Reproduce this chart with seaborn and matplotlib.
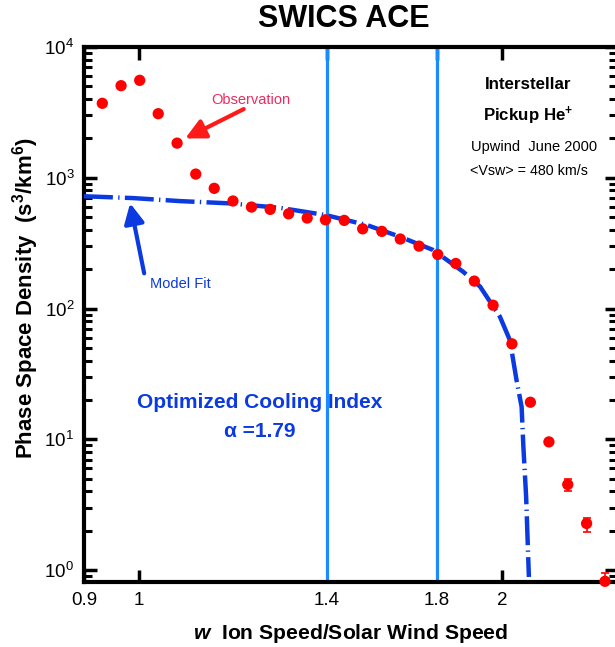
"""
SWICS ACE - interstellar pickup He+ phase space density vs w
"""
import matplotlib
matplotlib.use("Agg")
import matplotlib.pyplot as plt
import seaborn as sns

w_obs = [0.932, 0.966, 1.001, 1.037, 1.075, 1.114, 1.154, 1.196, 1.239, 1.284,
         1.330, 1.378, 1.427, 1.479, 1.532, 1.589, 1.646, 1.706, 1.768, 1.830,
         1.896, 1.965, 2.037, 2.110, 2.186, 2.266, 2.349, 2.433]
f_obs = [3710, 5060, 5560, 3090, 1840, 1067, 830, 664, 597, 573,
         530, 492, 477, 472, 407, 389, 340, 300, 259, 221,
         162, 106, 53.7, 19.2, 9.55, 4.51, 2.27, 0.82]

# error bars (only visible on the last points)
w_err = [2.266, 2.349, 2.433]
f_err = [4.51, 2.27, 0.82]
err_lo = [0.50, 0.30, 0.12]
err_hi = [0.47, 0.25, 0.13]

# model fit, alpha = 1.79
w_fit = [0.900, 0.989, 1.081, 1.189, 1.308, 1.428, 1.544, 1.645, 1.753, 1.856,
         1.917, 1.991, 2.029, 2.055, 2.075, 2.082, 2.093, 2.104]
f_fit = [722, 699, 663, 637, 589, 518, 435, 354, 280, 191,
         147, 86.4, 57.3, 28.3, 17.7, 8.75, 3.62, 0.885]

# selected w lines
w_lines = [1.43, 1.765]
x_ticks = [0.9, 1.0, 1.43, 1.765, 2.0]
x_labels = ["0.9", "1", "1.4", "1.8", "2"]

sns.set_style("ticks")
plt.rcParams["font.family"] = ["Liberation Sans", "DejaVu Sans"]
plt.rcParams["text.color"] = "black"
plt.rcParams["axes.labelcolor"] = "black"
plt.rcParams["mathtext.fontset"] = "custom"
plt.rcParams["mathtext.rm"] = "Liberation Sans"
plt.rcParams["mathtext.it"] = "Liberation Sans:italic:bold"
plt.rcParams["mathtext.bf"] = "Liberation Sans:bold"

RED = "#ff0000"
BLUE = "#0a3ae0"
LBLUE = "#1a8cff"

fig = plt.figure(figsize=(6.15, 6.47), dpi=100)
ax = fig.add_axes([84 / 615, 1 - 582 / 647, (616.5 - 84) / 615, (582 - 47) / 647])

ax.set_xscale("log")
ax.set_yscale("log")

for w in w_lines:
    ax.axvline(w, color=LBLUE, lw=2.3, zorder=1)

sns.lineplot(x=w_fit, y=f_fit, sort=False, color=BLUE, lw=3.2, ax=ax, zorder=3)
ax.lines[-1].set_linestyle((0, (6.5, 1.2, 0.3, 1.2)))

ax.errorbar(w_err, f_err, yerr=[err_lo, err_hi], fmt="none", ecolor=RED,
            elinewidth=1.2, capsize=3, capthick=1.2, zorder=4)
sns.scatterplot(x=w_obs, y=f_obs, color=RED, s=66, edgecolor="none",
                ax=ax, zorder=5, clip_on=False)

ax.set_xlim(0.9, 2.487)
ax.set_ylim(0.81, 1e4)
ax.set_xticks(x_ticks)
ax.set_xticklabels(x_labels)
ax.xaxis.set_minor_locator(matplotlib.ticker.NullLocator())
for i in (2, 3):
    t = ax.xaxis.get_major_ticks()[i]
    t.tick1line.set_visible(False)
    t.tick2line.set_visible(False)

ax.tick_params(which="both", direction="in", top=True, right=True,
               labelsize=13.5, colors="black", pad=7)
ax.tick_params(which="major", length=9, width=2.5)
ax.tick_params(which="minor", length=6, width=2.2)
for s in ax.spines.values():
    s.set_linewidth(3)
    s.set_color("black")

ax.set_xlabel(r"$w$  Ion Speed/Solar Wind Speed", fontsize=15.2,
              fontweight="bold")
ax.xaxis.set_label_coords(0.501, -0.075)
ax.set_ylabel(r"Phase Space Density  (s$^{\mathbf{3}}$/km$^{\mathbf{6}}$)",
              fontsize=16, fontweight="bold")
ax.yaxis.set_label_coords(-0.08, 0.531)

fig.text(344 / 615, 1 - 19 / 647, "SWICS ACE", fontsize=22, fontweight="bold",
         ha="center", va="center")

# annotations
ax.text(0.313, 0.901, "Observation", transform=ax.transAxes, color="#ee2a5e",
        fontsize=10.5, ha="center", va="center")
ax.annotate("", xy=(0.190, 0.829), xytext=(0.300, 0.884),
            xycoords="axes fraction", textcoords="axes fraction",
            arrowprops=dict(arrowstyle="-|>", color="#ff1a1a", lw=3,
                            mutation_scale=30, shrinkA=0, shrinkB=0))
ax.text(0.181, 0.557, "Model Fit", transform=ax.transAxes, color=BLUE,
        fontsize=10.5, ha="center", va="center")
ax.annotate("", xy=(0.0866, 0.708), xytext=(0.113, 0.577),
            xycoords="axes fraction", textcoords="axes fraction",
            arrowprops=dict(arrowstyle="-|>", color=BLUE, lw=3,
                            mutation_scale=30, shrinkA=0, shrinkB=0))

ax.text(0.3305, 0.3346, "Optimized Cooling Index", transform=ax.transAxes,
        color=BLUE, fontsize=15, fontweight="bold", ha="center", va="center")
ax.text(0.3305, 0.2822, "\u03b1 =1.79", transform=ax.transAxes,
        color=BLUE, fontsize=15, fontweight="bold", ha="center", va="center")

ax.text(0.834, 0.929, "Interstellar", transform=ax.transAxes,
        fontsize=12.2, fontweight="bold", ha="center", va="center")
ax.text(0.834, 0.871, r"Pickup He$^{\mathbf{+}}$", transform=ax.transAxes,
        fontsize=12.2, fontweight="bold", ha="center", va="center")
ax.text(0.8456, 0.813, "Upwind  June 2000", transform=ax.transAxes,
        fontsize=10.5, ha="center", va="center")
ax.text(0.835, 0.768, "<Vsw> = 480 km/s", transform=ax.transAxes,
        fontsize=10.3, ha="center", va="center")

fig.savefig("out.png", dpi=100)
